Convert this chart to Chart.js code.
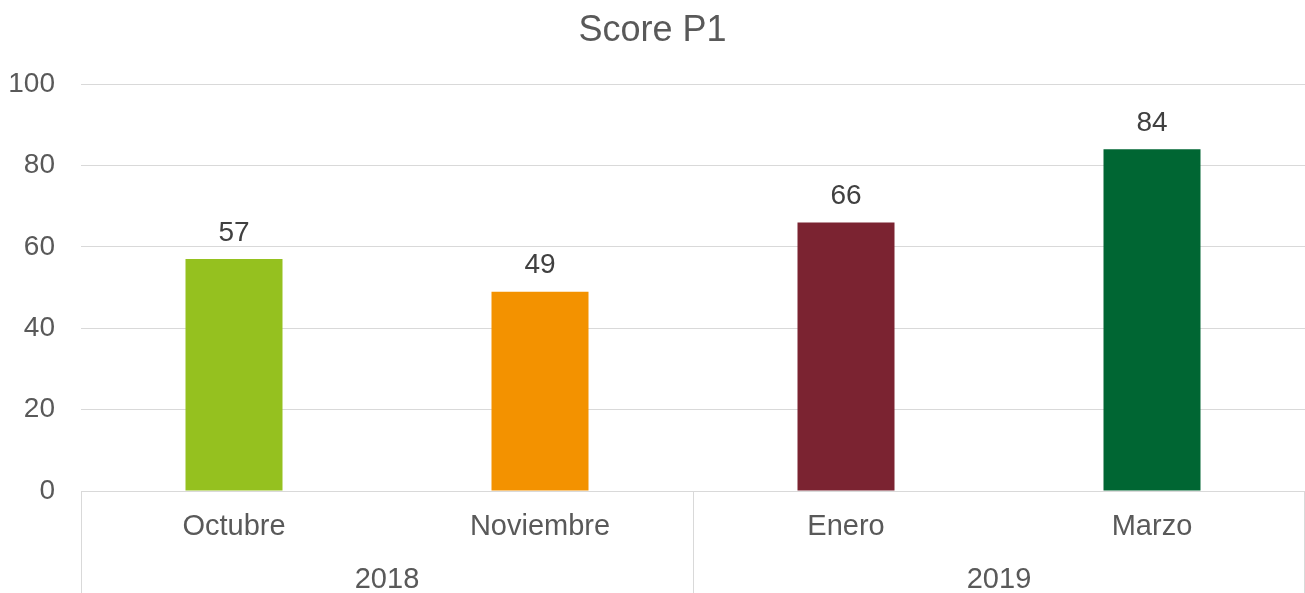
<!DOCTYPE html>
<html>
<head>
<meta charset="utf-8">
<title>Score P1</title>
<script src="https://cdn.jsdelivr.net/npm/chart.js@4.4.1/dist/chart.umd.min.js"></script>
<style>
  html, body { margin: 0; padding: 0; background: #fff; }
  #wrap { width: 1305px; height: 593px; }
</style>
</head>
<body>
<div id="wrap"><canvas id="scoreChart"></canvas></div>
<script>
// chart data
const months = ['Octubre', 'Noviembre', 'Enero', 'Marzo'];
const scores = [57, 49, 66, 84];
const barColors = ['#95c11f', '#f39200', '#7b2331', '#006633'];
const yearGroups = ['2018', '2019'];
const yearSpans = [2, 2];
const yTicks = [0, 20, 40, 60, 80, 100];

const FONT = "'Liberation Sans', Arial, sans-serif";
const TEXT = '#595959';
const LABEL = '#404040';
const GRID = '#d9d9d9';

// value labels above each bar
const valueLabels = {
  id: 'valueLabels',
  afterDatasetsDraw(chart) {
    const { ctx } = chart;
    const meta = chart.getDatasetMeta(0);
    ctx.save();
    ctx.font = `28px ${FONT}`;
    ctx.fillStyle = LABEL;
    ctx.textAlign = 'center';
    ctx.textBaseline = 'bottom';
    meta.data.forEach((bar, i) => {
      ctx.fillText(String(scores[i]), bar.x, bar.y - 12);
    });
    ctx.restore();
  },
};

// second level of the category axis: years + separators
const yearAxis = {
  id: 'yearAxis',
  afterDraw(chart) {
    const { ctx, chartArea } = chart;
    const x = chart.scales.x;
    const h = chart.height;
    const edges = [x.left];
    let idx = 0;
    yearSpans.forEach((span) => {
      idx += span;
      if (idx < months.length) {
        edges.push((x.getPixelForValue(idx - 1) + x.getPixelForValue(idx)) / 2);
      } else {
        edges.push(x.right);
      }
    });

    ctx.save();
    ctx.strokeStyle = GRID;
    ctx.lineWidth = 1;
    edges.forEach((ex, i) => {
      const px = i === edges.length - 1 ? Math.floor(ex) - 0.5 : Math.round(ex) + 0.5;
      ctx.beginPath();
      ctx.moveTo(px, chartArea.bottom);
      ctx.lineTo(px, h);
      ctx.stroke();
    });

    ctx.font = `29px ${FONT}`;
    ctx.fillStyle = TEXT;
    ctx.textAlign = 'center';
    ctx.textBaseline = 'middle';
    yearGroups.forEach((yr, i) => {
      ctx.fillText(yr, (edges[i] + edges[i + 1]) / 2, chartArea.bottom + 89);
    });
    ctx.restore();
  },
};

new Chart(document.getElementById('scoreChart'), {
  type: 'bar',
  data: {
    labels: months,
    datasets: [{
      label: 'Score P1',
      data: scores,
      backgroundColor: barColors,
      borderWidth: 0,
      categoryPercentage: 1,
      barPercentage: 0.317,
    }],
  },
  options: {
    responsive: true,
    maintainAspectRatio: false,
    animation: false,
    layout: { padding: 0 },
    plugins: {
      legend: { display: false },
      tooltip: { enabled: false },
      title: {
        display: true,
        text: 'Score P1',
        color: TEXT,
        font: { family: FONT, size: 36, weight: 'normal' },
        padding: { top: 9, bottom: 32 },
      },
    },
    scales: {
      y: {
        min: 0,
        max: 100,
        afterBuildTicks: (scale) => { scale.ticks = yTicks.map((v) => ({ value: v })); },
        afterFit: (scale) => { scale.width = 81; },
        ticks: { color: TEXT, font: { family: FONT, size: 28 }, padding: 26 },
        grid: { color: GRID, lineWidth: 1, drawTicks: false },
        border: { display: false },
      },
      x: {
        afterFit: (scale) => { scale.height = 102; },
        ticks: {
          color: TEXT,
          font: { family: FONT, size: 29 },
          padding: 19,
          maxRotation: 0,
          autoSkip: false,
        },
        grid: { display: false, drawTicks: false },
        border: { display: false },
      },
    },
  },
  plugins: [valueLabels, yearAxis],
});
</script>
</body>
</html>
